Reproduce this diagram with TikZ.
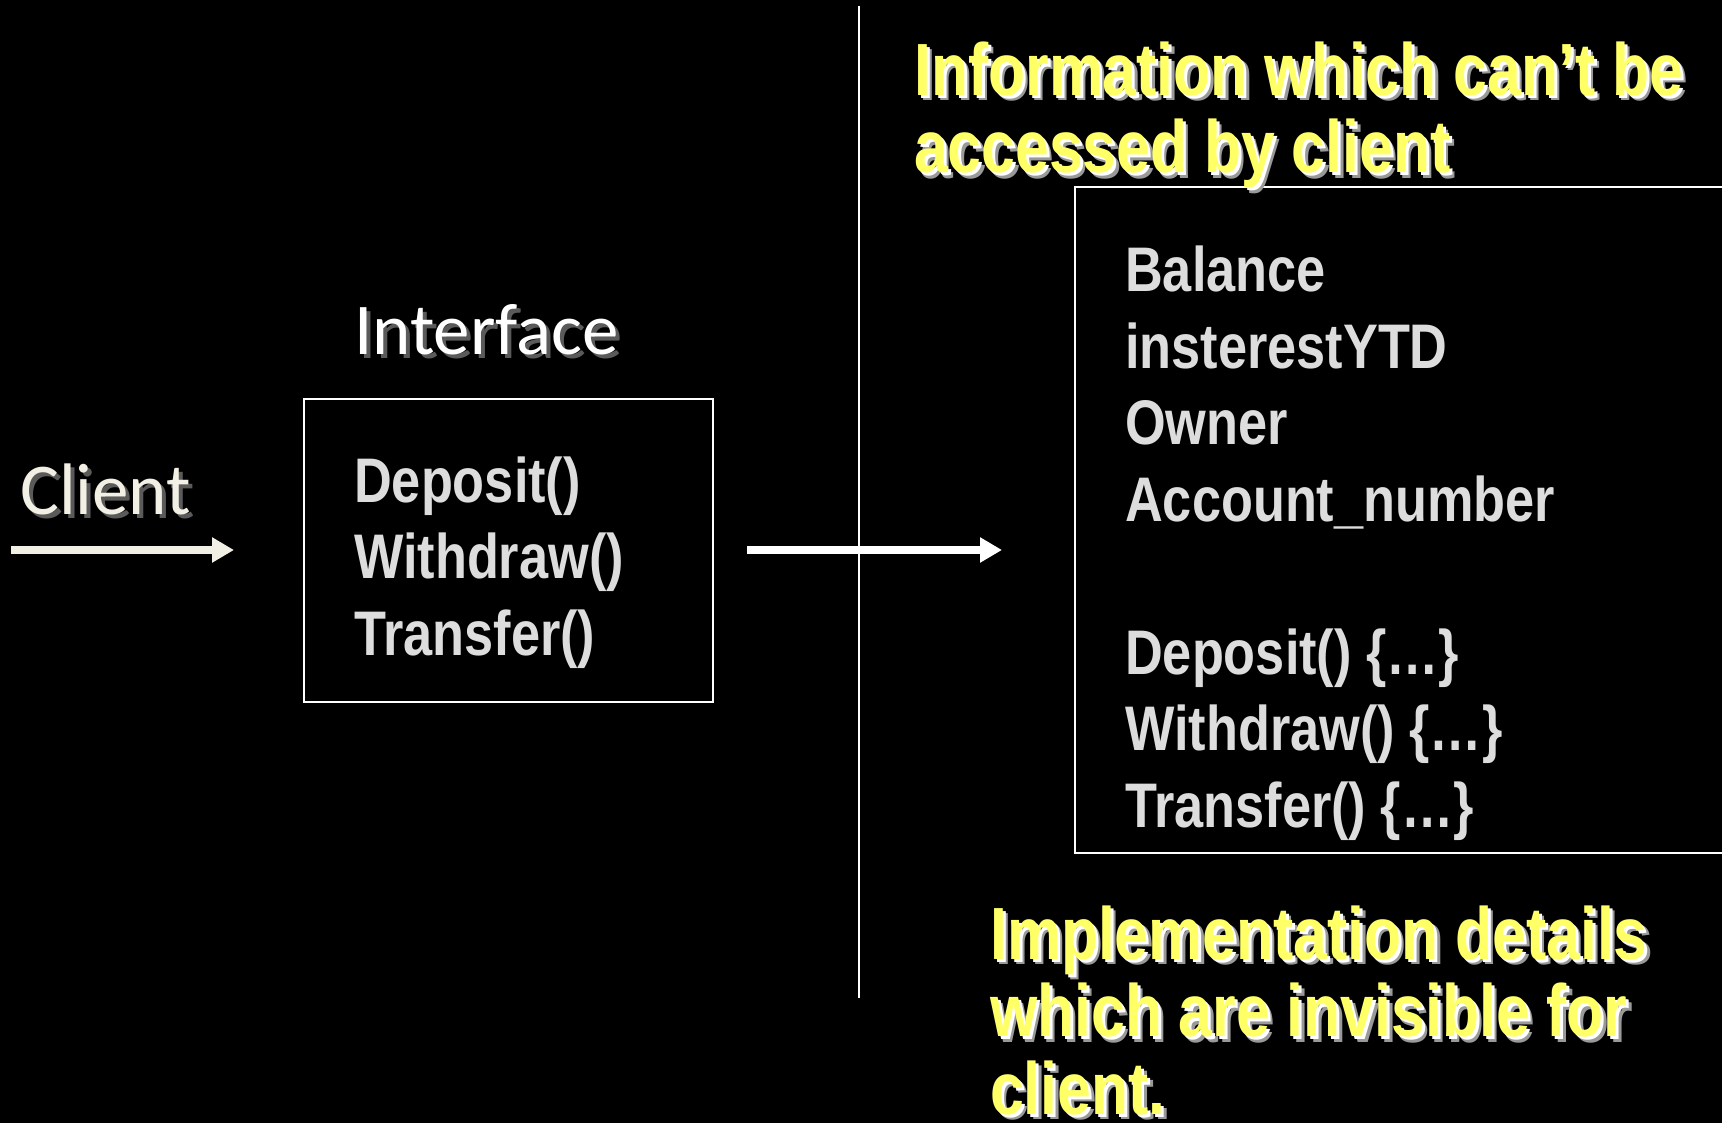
\documentclass[tikz,border=0pt]{standalone}
\usepackage{fontspec}
\usetikzlibrary{arrows.meta}

\newfontfamily\narrowfont[FakeStretch=0.83]{Liberation Sans}
\newfontfamily\notefont[FakeStretch=0.82]{Liberation Sans}
\newfontfamily\calfont{Carlito}

\definecolor{bodygray}{HTML}{DDDDDD}
\definecolor{hiyellow}{HTML}{FFFF66}
\definecolor{cream}{HTML}{F2F0E4}
\definecolor{shadowgray}{HTML}{5A5A5A}

% multi-line nodes are placed by the baseline of their last line
\tikzset{
  frame/.style={draw=white, line width=2pt, inner sep=0pt, anchor=north west},
  bodytext/.style={text=bodygray, font=\narrowfont\bfseries\fontsize{63}{76.5}\selectfont,
                   align=left, anchor=base west, inner sep=0pt},
  note/.style={text=hiyellow, font=\notefont\bfseries\fontsize{74}{77.5}\selectfont,
               align=left, anchor=base west, inner sep=0pt},
  noteglow/.style={note, text=gray!80},
  noteshade/.style={note, text=white},
  label/.style={font=\calfont\fontsize{73}{80}\selectfont, anchor=base west, inner sep=0pt},
  flow/.style={line width=7.5pt, -{Triangle[length=22pt,width=24pt]}},
}

\begin{document}
\begin{tikzpicture}[x=1pt, y=-1pt]
  % page and background
  \fill[black] (0,0) rectangle (1722,1123);
  \useasboundingbox (0,0) rectangle (1722,1123);

  % divider between interface and implementation
  \coordinate (divtop) at (859,6);
  \coordinate (divbot) at (859,998);
  \draw[white, line width=2pt] (divtop) -- (divbot);

  % client side
  \node[label, text=shadowgray] (clientshade) at (24,518) {Client};
  \node[label, text=cream] (client) at (20,514) {Client};
  \coordinate (clientfrom) at (11,550);
  \coordinate (clientto) at (234,550);
  \draw[flow, draw=cream, fill=cream] (clientfrom) -- (clientto);

  % interface box
  \node[label, text=shadowgray] (ifaceshade) at (358,359) {Interface};
  \node[label, text=white] (iface) at (354,355) {Interface};
  \node[frame, minimum width=409pt, minimum height=303pt] (ifbox) at (303,398) {};
  \node[bodytext] (ifops) at (354,655) {Deposit()\\Withdraw()\\Transfer()};

  % arrow across the divider
  \coordinate (passfrom) at (747,550);
  \coordinate (passto) at (1002,550);
  \draw[flow, draw=white, fill=white] (passfrom) -- (passto);

  % implementation box (runs on past the right edge)
  \node[frame, minimum width=700pt, minimum height=666pt] (implbox) at (1074,186) {};
  \node[bodytext] (implops) at (1125,827)
    {Balance\\insterestYTD\\Owner\\Account\_number\\[76.5pt]Deposit() \{…\}\\Withdraw() \{…\}\\Transfer() \{…\}};

  % yellow notes with soft white shadow
  \node[noteglow] (hiddenglow) at (919.5,178.5) {Information which can’t be\\accessed by client};
  \node[noteshade] (hiddenshade) at (917,176) {Information which can’t be\\accessed by client};
  \node[note] (hidden) at (914,173) {Information which can’t be\\accessed by client};

  \node[noteglow] (implglow) at (995.5,1119.5) {Implementation details\\which are invisible for\\client.};
  \node[noteshade] (implshade) at (993,1117) {Implementation details\\which are invisible for\\client.};
  \node[note] (impl) at (990,1114) {Implementation details\\which are invisible for\\client.};
\end{tikzpicture}
\end{document}
